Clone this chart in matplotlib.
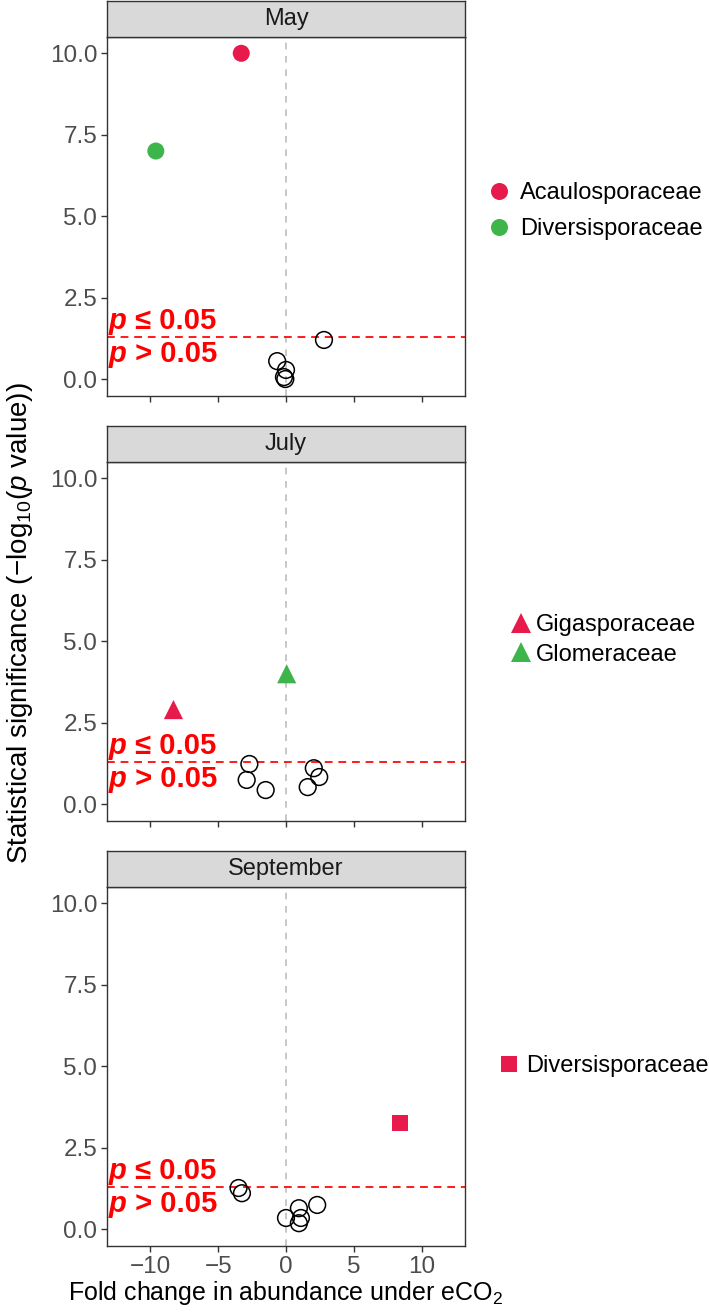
import numpy as np
import matplotlib
matplotlib.use("Agg")
import matplotlib.pyplot as plt
from matplotlib.lines import Line2D

plt.rcParams['font.family'] = ['Liberation Sans', 'DejaVu Sans']
plt.rcParams['mathtext.fontset'] = 'custom'
plt.rcParams['mathtext.rm'] = 'Liberation Sans'
plt.rcParams['mathtext.it'] = 'Liberation Sans:italic'
plt.rcParams['mathtext.bf'] = 'Liberation Sans:bold'

# --- data ---
months = ["May", "July", "September"]

# non-significant taxa (hollow circles)
may_ns_x = [2.8, -0.65, 0.0, -0.15, -0.05]
may_ns_y = [1.2, 0.55, 0.28, 0.06, 0.0]
jul_ns_x = [-2.7, -2.9, -1.5, 2.05, 2.45, 1.6]
jul_ns_y = [1.23, 0.74, 0.43, 1.1, 0.83, 0.52]
sep_ns_x = [-3.5, -3.25, 0.0, 0.95, 1.1, 0.95, 2.3]
sep_ns_y = [1.26, 1.1, 0.34, 0.64, 0.34, 0.18, 0.74]

# significant taxa
may_sig_names = ["Acaulosporaceae", "Diversisporaceae"]
may_sig_x = [-3.3, -9.6]
may_sig_y = [10.0, 7.0]
jul_sig_names = ["Gigasporaceae", "Glomeraceae"]
jul_sig_x = [-8.3, 0.05]
jul_sig_y = [2.9, 4.0]
sep_sig_names = ["Diversisporaceae"]
sep_sig_x = [8.4]
sep_sig_y = [3.25]

threshold = -np.log10(0.05)
x_ticks = [-10, -5, 0, 5, 10]
y_ticks = [0.0, 2.5, 5.0, 7.5, 10.0]

RED = "#E8194B"
GREEN = "#3DB54A"

panels = [
    (may_ns_x, may_ns_y, may_sig_names, may_sig_x, may_sig_y, "o", [RED, GREEN]),
    (jul_ns_x, jul_ns_y, jul_sig_names, jul_sig_x, jul_sig_y, "^", [RED, GREEN]),
    (sep_ns_x, sep_ns_y, sep_sig_names, sep_sig_x, sep_sig_y, "s", [RED]),
]

W, H = 709, 1314
fig = plt.figure(figsize=(W / 100, H / 100), dpi=100)

left_px, right_px = 107, 465
plot_tops = [37, 462, 887]
plot_h = 359
strip_h = 36
legend_x_px = [487, 509, 497]
legend_y_px = [211, 640, 1066]
legend_pad = [0.4, 0.15, 0.25]
legend_spacing = [0.6, 0.3, 0.3]
marker_sizes = {"o": 150, "^": 190, "s": 130}

for i, (nsx, nsy, names, sx, sy, mk, cols) in enumerate(panels):
    top = plot_tops[i]
    ax = fig.add_axes([left_px / W, 1 - (top + plot_h) / H,
                       (right_px - left_px) / W, plot_h / H])
    sax = fig.add_axes([left_px / W, 1 - top / H,
                        (right_px - left_px) / W, strip_h / H])

    ax.axvline(0, color="#BDBDBD", ls=(0, (4, 4)), lw=1.2, zorder=1)
    ax.axhline(threshold, color="#FF1A1A", ls=(0, (4, 3)), lw=1.4, zorder=1)
    ax.scatter(nsx, nsy, s=145, facecolors="none", edgecolors="black",
               linewidths=1.1, zorder=3)
    handles = []
    for name, x, y, c in zip(names, sx, sy, cols):
        ax.scatter([x], [y], s=marker_sizes[mk], marker=mk, color=c,
                   edgecolors="none", zorder=4)
        handles.append(Line2D([], [], marker=mk, ls="none", color=c,
                              markersize=np.sqrt(marker_sizes[mk]),
                              markeredgewidth=0))

    ax.set_xlim(-13.2, 13.2)
    ax.set_ylim(-0.52, 10.5)
    ax.set_xticks(x_ticks)
    ax.set_yticks(y_ticks)
    ax.set_yticklabels([f"{v:.1f}" for v in y_ticks])
    if i == 2:
        ax.set_xticklabels([str(v).replace("-", "\u2212") for v in x_ticks])
    else:
        ax.set_xticklabels([])
    ax.tick_params(length=4, width=1, color="#333333", labelcolor="#4D4D4D",
                   labelsize=17.5, pad=3)
    for sp in ax.spines.values():
        sp.set_color("#333333")
        sp.set_linewidth(1.0)

    # significance labels
    for ty, sym in [(1.78, " \u2264 0.05"), (0.78, " > 0.05")]:
        t = ax.text(-13.05, ty, "p", color="#FF0000", fontsize=21,
                    fontweight="bold", fontstyle="italic", va="center",
                    ha="left", zorder=5)
        ax.annotate(sym, xy=(1, 0.5), xycoords=t, color="#FF0000",
                    fontsize=21, fontweight="bold", va="center", ha="left",
                    zorder=5)

    # strip
    sax.set_facecolor("#D9D9D9")
    sax.set_xticks([])
    sax.set_yticks([])
    for sp in sax.spines.values():
        sp.set_color("#333333")
        sp.set_linewidth(1.0)
    sax.text(0.5, 0.5, months[i], transform=sax.transAxes, ha="center",
             va="center", fontsize=17, color="#1A1A1A")

    fig.legend(handles, names, loc="center left",
               bbox_to_anchor=(legend_x_px[i] / W, 1 - legend_y_px[i] / H),
               frameon=False, fontsize=17, handlelength=1.0,
               handletextpad=legend_pad[i], labelspacing=legend_spacing[i],
               borderpad=0, borderaxespad=0)

fig.text(20 / W, 1 - 623 / H,
         "Statistical significance (\u2212log$_{10}$($\\mathit{p}$ value))",
         rotation=90, ha="center", va="center", fontsize=20)
fig.text(286 / W, 1 - 1293 / H, "Fold change in abundance under eCO$_2$",
         ha="center", va="center", fontsize=18)

fig.savefig("out.png", dpi=100)
